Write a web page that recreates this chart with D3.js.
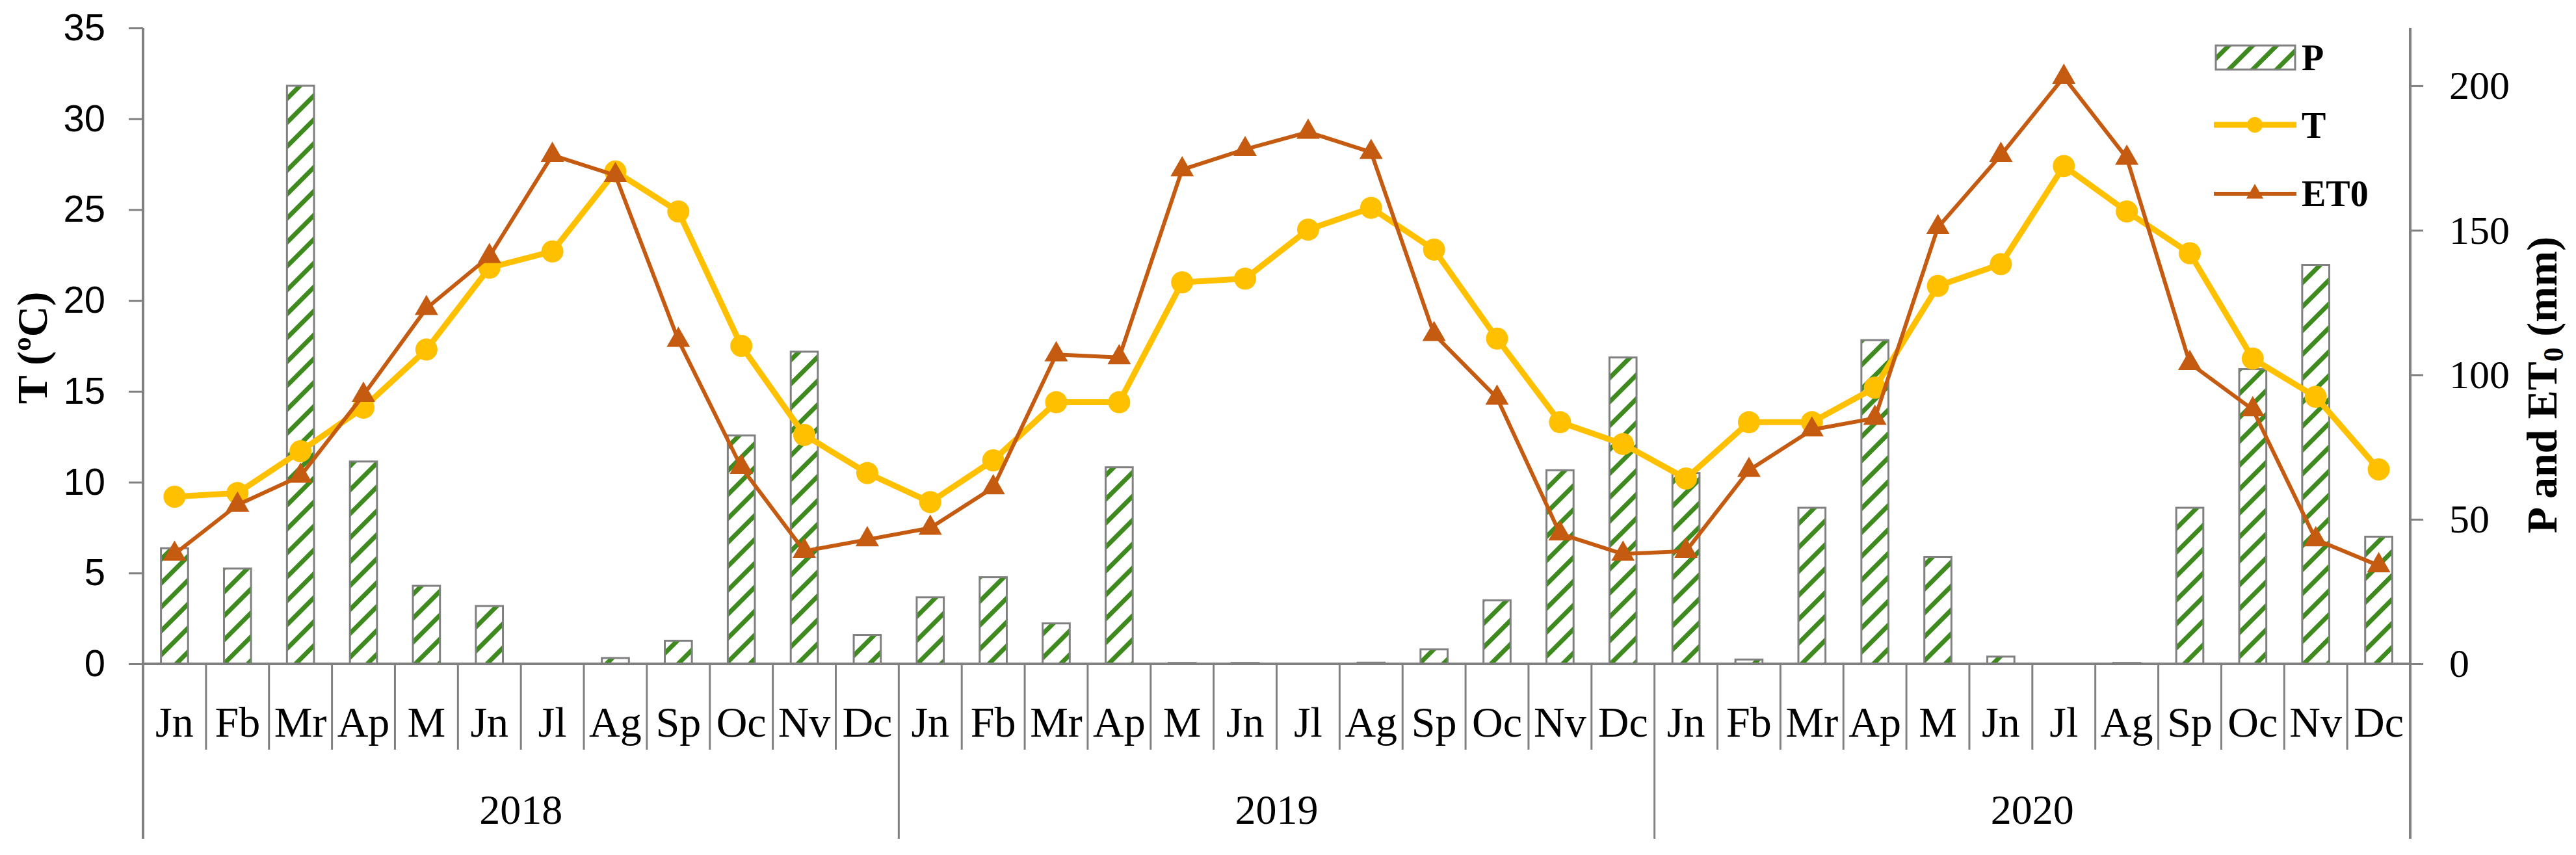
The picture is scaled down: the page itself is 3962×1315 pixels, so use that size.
<!DOCTYPE html>
<html lang="en">
    <head>
        <meta charset="utf-8">
        <title>P, T and ET0 2018-2020</title>
        <script src="https://d3js.org/d3.v7.min.js" charset="utf-8"></script>
        <style>
            body { margin: 0; background: #fff; }
        </style>
    </head>
    <body>
        <script type="text/javascript">

            // data
            var months = ["Jn", "Fb", "Mr", "Ap", "M", "Jn", "Jl", "Ag", "Sp", "Oc", "Nv", "Dc"];
            var years = ["2018", "2019", "2020"];

            // T (ºC), left axis
            var temp = [9.2, 9.4, 11.7, 14.1, 17.3, 21.8, 22.7, 27.1, 24.9, 17.5, 12.6, 10.5,
                        8.9, 11.2, 14.4, 14.4, 21.0, 21.2, 23.9, 25.1, 22.8, 17.9, 13.3, 12.1,
                        10.2, 13.3, 13.3, 15.2, 20.8, 22.0, 27.4, 24.9, 22.6, 16.8, 14.7, 10.7];

            // ET0 (mm), right axis
            var et0 = [38, 55, 65, 93, 123, 141, 176, 169, 112, 68, 39, 43,
                       47, 61, 107, 106, 171, 178, 184, 177, 114, 92, 45, 38,
                       39, 67, 81, 85, 151, 176, 203, 175, 104, 88, 43, 34];

            // P (mm), right axis
            var precip = [40, 33, 200, 70, 27, 20, 0, 2, 8, 79, 108, 10,
                          23, 30, 14, 68, 0.3, 0.3, 0, 0.4, 5, 22, 67, 106,
                          66, 1.5, 54, 112, 37, 2.5, 0, 0.3, 54, 102, 138, 44];

            var leftTicks = [0, 5, 10, 15, 20, 25, 30, 35];
            var rightTicks = [0, 50, 100, 150, 200];

            //Width and height etc
            var w = 3962;
            var h = 1315;
            var plotL = 220, plotR = 3707, plotT = 43, plotB = 1021;
            var grey = "#808080";
            var serif = "'Liberation Serif', 'DejaVu Serif', serif";
            var sans = "'Liberation Sans', Arial, sans-serif";

            var svg = d3.select("body")
                .append("svg")
                .attr("width", w)
                .attr("height", h)
                .style("background", "#fff");

            // striped fill for the P bars
            var defs = svg.append("defs");
            var pat = defs.append("pattern")
                .attr("id", "stripes")
                .attr("patternUnits", "userSpaceOnUse")
                .attr("width", 26)
                .attr("height", 26)
                .attr("patternTransform", "rotate(45)");
            pat.append("rect").attr("width", 26).attr("height", 26).attr("fill", "#fff");
            pat.append("rect").attr("width", 7).attr("height", 26).attr("fill", "#3f8a1f");

            // scales
            var idx = d3.range(temp.length);
            var x = d3.scaleBand().domain(idx).range([plotL, plotR]);
            var yL = d3.scaleLinear().domain([0, 35]).range([plotB, plotT]);
            var yR = d3.scaleLinear().domain([0, 220]).range([plotB, plotT]);
            var barW = x.bandwidth() * 0.43;

            // bars
            svg.append("g").selectAll("rect")
                .data(precip)
                .enter()
                .append("rect")
                .attr("x", function(d, i) { return x(i) + (x.bandwidth() - barW) / 2; })
                .attr("y", function(d) { return yR(d); })
                .attr("width", barW)
                .attr("height", function(d) { return yR(0) - yR(d); })
                .attr("fill", "url(#stripes)")
                .attr("stroke", function(d) { return d > 0 ? grey : "none"; })
                .attr("stroke-width", 3);

            var cx = function(i) { return x(i) + x.bandwidth() / 2; };

            // T line + circles
            var tLine = d3.line()
                .x(function(d, i) { return cx(i); })
                .y(function(d) { return yL(d); });

            svg.append("path")
                .datum(temp)
                .attr("d", tLine)
                .attr("fill", "none")
                .attr("stroke", "#ffc000")
                .attr("stroke-width", 9)
                .attr("stroke-linejoin", "round");

            svg.append("g").selectAll("circle")
                .data(temp)
                .enter()
                .append("circle")
                .attr("cx", function(d, i) { return cx(i); })
                .attr("cy", function(d) { return yL(d); })
                .attr("r", 17)
                .attr("fill", "#ffc000");

            // ET0 line + triangles
            var eLine = d3.line()
                .x(function(d, i) { return cx(i); })
                .y(function(d) { return yR(d); });

            svg.append("path")
                .datum(et0)
                .attr("d", eLine)
                .attr("fill", "none")
                .attr("stroke", "#c55a11")
                .attr("stroke-width", 6)
                .attr("stroke-linejoin", "round");

            var tri = d3.symbol().type(d3.symbolTriangle).size(560);
            svg.append("g").selectAll("path")
                .data(et0)
                .enter()
                .append("path")
                .attr("d", tri)
                .attr("transform", function(d, i) { return "translate(" + cx(i) + "," + yR(d) + ")"; })
                .attr("fill", "#c55a11");

            // left axis
            var axL = svg.append("g")
                .attr("transform", "translate(" + plotL + ",0)")
                .call(d3.axisLeft(yL).tickValues(leftTicks).tickSize(22).tickSizeOuter(0).tickPadding(36));
            axL.select(".domain").remove();
            axL.selectAll("line").attr("stroke", grey).attr("stroke-width", 3);
            axL.selectAll("text").attr("font-family", sans).attr("font-size", 58).attr("fill", "#000");

            // right axis
            var axR = svg.append("g")
                .attr("transform", "translate(" + plotR + ",0)")
                .call(d3.axisRight(yR).tickValues(rightTicks).tickSize(20).tickSizeOuter(0).tickPadding(40));
            axR.select(".domain").remove();
            axR.selectAll("line").attr("stroke", grey).attr("stroke-width", 3);
            axR.selectAll("text").attr("font-family", serif).attr("font-size", 62).attr("fill", "#000");

            // vertical axis lines run down through the category labels
            svg.append("line")
                .attr("x1", plotL).attr("x2", plotL).attr("y1", plotT).attr("y2", 1290)
                .attr("stroke", grey).attr("stroke-width", 4);
            svg.append("line")
                .attr("x1", plotR).attr("x2", plotR).attr("y1", plotT).attr("y2", 1290)
                .attr("stroke", grey).attr("stroke-width", 4);

            // category axis
            svg.append("line")
                .attr("x1", plotL).attr("x2", plotR).attr("y1", plotB).attr("y2", plotB)
                .attr("stroke", grey).attr("stroke-width", 4);

            svg.append("g").selectAll("line")
                .data(d3.range(1, temp.length))
                .enter()
                .append("line")
                .attr("x1", function(i) { return x(i); })
                .attr("x2", function(i) { return x(i); })
                .attr("y1", plotB)
                .attr("y2", function(i) { return i % 12 == 0 ? 1290 : 1153; })
                .attr("stroke", grey)
                .attr("stroke-width", 3);

            svg.append("g").selectAll("text")
                .data(idx)
                .enter()
                .append("text")
                .attr("x", function(i) { return cx(i); })
                .attr("y", 1133)
                .attr("text-anchor", "middle")
                .attr("font-family", serif)
                .attr("font-size", 66)
                .text(function(i) { return months[i % 12]; });

            svg.append("g").selectAll("text")
                .data(years)
                .enter()
                .append("text")
                .attr("x", function(d, j) { return (x(j * 12) + x(j * 12 + 11) + x.bandwidth()) / 2; })
                .attr("y", 1267)
                .attr("text-anchor", "middle")
                .attr("font-family", serif)
                .attr("font-size", 64)
                .text(function(d) { return d; });

            // axis titles
            svg.append("text")
                .attr("transform", "translate(72,535) rotate(-90)")
                .attr("text-anchor", "middle")
                .attr("font-family", serif)
                .attr("font-weight", "bold")
                .attr("font-size", 66)
                .text("T (ºC)");

            var rt = svg.append("text")
                .attr("transform", "translate(3932,592) rotate(-90)")
                .attr("text-anchor", "middle")
                .attr("font-family", serif)
                .attr("font-weight", "bold")
                .attr("font-size", 66);
            rt.append("tspan").text("P and ET");
            rt.append("tspan").attr("dy", 10).attr("font-size", 44).text("0");
            rt.append("tspan").attr("dy", -10).text(" (mm)");

            // legend
            var lg = svg.append("g").attr("font-family", serif).attr("font-weight", "bold").attr("font-size", 56);
            lg.append("rect")
                .attr("x", 3408).attr("y", 70).attr("width", 122).attr("height", 37)
                .attr("fill", "url(#stripes)").attr("stroke", grey).attr("stroke-width", 3);
            lg.append("text").attr("x", 3540).attr("y", 108).text("P");

            lg.append("line")
                .attr("x1", 3405).attr("x2", 3532).attr("y1", 192).attr("y2", 192)
                .attr("stroke", "#ffc000").attr("stroke-width", 9);
            lg.append("circle").attr("cx", 3468).attr("cy", 192).attr("r", 12).attr("fill", "#ffc000");
            lg.append("text").attr("x", 3540).attr("y", 212).text("T");

            lg.append("line")
                .attr("x1", 3405).attr("x2", 3532).attr("y1", 298).attr("y2", 298)
                .attr("stroke", "#c55a11").attr("stroke-width", 6);
            lg.append("path")
                .attr("d", d3.symbol().type(d3.symbolTriangle).size(300))
                .attr("transform", "translate(3468,298)")
                .attr("fill", "#c55a11");
            lg.append("text").attr("x", 3540).attr("y", 317).text("ET0");

        </script>
    </body>
</html>
